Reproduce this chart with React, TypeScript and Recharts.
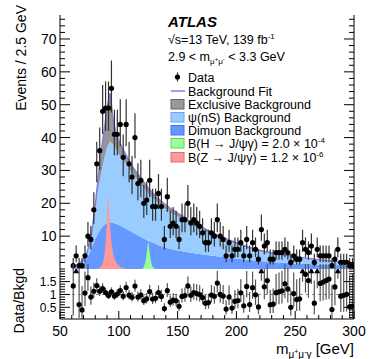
import React from 'react';
import { ComposedChart, Area, Line, Scatter, XAxis, YAxis, ErrorBar, ReferenceLine } from 'recharts';

const FONT = '"Liberation Sans", Arial, Helvetica, sans-serif';

// ---- background model (read at these masses, GeV) ----
const bgMass = [60, 62.5, 65, 67.5, 70, 72.5, 75, 77.5, 80, 82.5, 85, 87.5, 90, 92.5, 95, 97.5, 100, 105, 110, 115, 120, 125, 130, 135, 140, 145, 150, 155, 160, 170, 180, 190, 200, 210, 220, 230, 240, 250, 260, 270, 280, 290, 300];
const dimuonBkg = [0.1, 0.2, 0.4, 0.8, 1.6, 2.9, 4.8, 7.0, 9.2, 11.0, 12.4, 13.4, 14.0, 14.2, 14.1, 13.8, 13.4, 12.5, 11.5, 10.5, 9.5, 8.6, 7.8, 7.1, 6.5, 6.0, 5.6, 5.3, 5.0, 4.5, 4.0, 3.6, 3.2, 2.8, 2.4, 2.1, 1.9, 1.7, 1.55, 1.4, 1.3, 1.2, 1.1];
const psiBkg = [0.4, 0.6, 0.8, 1.0, 1.1, 1.3, 2.0, 4.3, 8.3, 13.5, 16.6, 20.1, 23.0, 24.5, 23.9, 22.7, 21.6, 20.0, 18.5, 17.0, 15.7, 14.4, 13.4, 12.5, 11.7, 11.0, 10.3, 9.7, 8.8, 7.5, 6.3, 5.2, 4.3, 3.5, 2.95, 2.5, 2.1, 1.85, 1.55, 1.25, 1.0, 0.75, 0.55];
const exclusiveBkg = [0.1, 0.1, 0.1, 0.2, 0.3, 0.4, 0.7, 1.2, 2.0, 3.5, 7.0, 8.5, 12.0, 14.8, 8.0, 5.0, 4.0, 3.0, 2.0, 2.0, 1.8, 1.7, 1.5, 1.4, 1.3, 1.2, 1.1, 1.0, 0.9, 0.8, 0.7, 0.6, 0.5, 0.4, 0.35, 0.3, 0.3, 0.25, 0.2, 0.2, 0.15, 0.15, 0.15];

// ---- data (2.5 GeV bins) ----
const binCenters = [61.25, 63.75, 66.25, 68.75, 71.25, 73.75, 76.25, 78.75, 81.25, 83.75, 86.25, 88.75, 91.25, 93.75, 96.25, 98.75, 101.25, 103.75, 106.25, 108.75, 111.25, 113.75, 116.25, 118.75, 121.25, 123.75, 126.25, 128.75, 131.25, 133.75, 136.25, 138.75, 141.25, 143.75, 146.25, 148.75, 151.25, 153.75, 156.25, 158.75, 161.25, 163.75, 166.25, 168.75, 171.25, 173.75, 176.25, 178.75, 181.25, 183.75, 186.25, 188.75, 191.25, 193.75, 196.25, 198.75, 201.25, 203.75, 206.25, 208.75, 211.25, 213.75, 216.25, 218.75, 221.25, 223.75, 226.25, 228.75, 231.25, 233.75, 236.25, 238.75, 241.25, 243.75, 246.25, 248.75, 251.25, 253.75, 256.25, 258.75, 261.25, 263.75, 266.25, 268.75, 271.25, 273.75, 276.25, 278.75, 281.25, 283.75, 286.25, 288.75, 291.25, 293.75, 296.25, 298.75];
const dataCounts = [1, 4, 1, 1, 4, 10, 9, 18, 32, 36, 48, 49, 49, 55, 41, 41, 44, 34, 44, 32, 28, 40, 26, 27, 20, 21, 27, 19, 19, 23, 19, 9, 22, 13, 14, 13, 9, 15, 15, 20, 14, 15, 14, 13, 11, 8, 8, 11, 10, 15, 10, 9, 4, 8, 4, 6, 6, 8, 4, 9, 4, 8, 6, 3, 12, 7, 8, 3, 3, 5, 5, 5, 6, 5, 2, 4, 3, 3, 8, 6, 5, 7, 2, 6, 4, 4, 4, 4, 1, 3, 6, 2, 2, 2, 1, 1];

// ---- signal shapes ----
const zSigMass = [82, 84, 86, 87, 88, 89, 90, 91, 92, 93, 94, 95, 96, 98, 100, 103, 107];
const zSigVal = [0, 0.4, 1.3, 2.6, 5, 9, 15.5, 22.8, 16.5, 11, 7.5, 5, 3.5, 1.8, 0.9, 0.3, 0];
const hSigMass = [119, 121, 122, 123, 124, 125, 126, 127, 128, 129, 131];
const hSigVal = [0, 0.4, 1.3, 2.9, 5.6, 8.5, 5.8, 3.0, 1.3, 0.5, 0];

// ---- ticks ----
const xTicks = [50, 60, 70, 80, 90, 100, 110, 120, 130, 140, 150, 160, 170, 180, 190, 200, 210, 220, 230, 240, 250, 260, 270, 280, 290, 300];
const yTopTicks = [0, 2, 4, 6, 8, 10, 12, 14, 16, 18, 20, 22, 24, 26, 28, 30, 32, 34, 36, 38, 40, 42, 44, 46, 48, 50, 52, 54, 56, 58, 60, 62, 64, 66, 68, 70, 72, 74, 76];
const yTopLabels = [10, 20, 30, 40, 50, 60, 70];
const yRatioTicks = [0.1, 0.2, 0.3, 0.4, 0.5, 0.6, 0.7, 0.8, 0.9, 1.0, 1.1, 1.2, 1.3, 1.4, 1.5, 1.6, 1.7, 1.8, 1.9];
const yRatioLabels = [0.5, 1, 1.5];

const TOP_MAX = 77.3;
const R_MIN = 0.046;
const R_MAX = 1.99;

// ---- tables built from the arrays ----
const bgTable = bgMass.map((m, i) => ({
  m,
  dimuon: dimuonBkg[i],
  psi: psiBkg[i],
  excl: exclusiveBkg[i],
  fit: dimuonBkg[i] + psiBkg[i] + exclusiveBkg[i],
}));

const fitAt = (m: number) => {
  for (let i = 0; i < bgTable.length - 1; i++) {
    const a = bgTable[i], b = bgTable[i + 1];
    if (m >= a.m && m <= b.m) return a.fit + ((b.fit - a.fit) * (m - a.m)) / (b.m - a.m);
  }
  return bgTable[bgTable.length - 1].fit;
};

const poisErr = (n: number): [number, number] => [Math.sqrt(Math.max(n - 0.25, 0)), Math.sqrt(n + 0.75) + 1];

const dataTable = binCenters.map((m, i) => ({ m, n: dataCounts[i], err: poisErr(dataCounts[i]) }));

const ratioAll = binCenters.map((m, i) => {
  const n = dataCounts[i];
  const f = fitAt(m);
  const e = poisErr(n);
  return { m, r: n / f, lo: e[0] / f, hi: e[1] / f };
});
const ratioIn = ratioAll.filter((p) => p.r <= 1.96).map((p) => ({ m: p.m, r: p.r, err: [p.lo, p.hi] }));
const ratioOver = ratioAll.filter((p) => p.r > 1.96).map((p) => ({ m: p.m, r: 1.925, err: [Math.max(1.925 - (p.r - p.lo), 0), 0] }));

const zTable = zSigMass.map((m, i) => ({ m, v: zSigVal[i] }));
const hTable = hSigMass.map((m, i) => ({ m, v: hSigVal[i] }));

// ---- tick renderers ----
const near = (a: number, b: number) => Math.abs(a - b) < 1e-6;
const isMult = (v: number, s: number) => near(v / s, Math.round(v / s));

const makeXTick = (dir: number, majorLen: number, minorLen: number, label: boolean) => (props: any) => {
  const { x, y, payload } = props;
  const v = payload.value;
  const major = isMult(v, 50);
  return (
    <g>
      <line x1={x} y1={y} x2={x} y2={y + dir * (major ? majorLen : minorLen)} stroke="#000" strokeWidth={1} />
      {label && major ? (
        <text x={x} y={y + 17} textAnchor="middle" fontSize={14} fontFamily={FONT} fill="#000">
          {v}
        </text>
      ) : null}
    </g>
  );
};

const makeYTick = (dir: number, majorLen: number, minorLen: number, majors: number[], labels: boolean, fs: number) => (props: any) => {
  const { x, y, payload } = props;
  const v = payload.value;
  const major = majors.some((mv) => near(mv, v));
  return (
    <g>
      <line x1={x} y1={y} x2={x + dir * (major ? majorLen : minorLen)} y2={y} stroke="#000" strokeWidth={1} />
      {labels && major ? (
        <text x={x - 3.5} y={y + fs * 0.36} textAnchor="end" fontSize={fs} fontFamily={FONT} fill="#000">
          {String(v)}
        </text>
      ) : null}
    </g>
  );
};

const DataDot = (p: any) => <circle cx={p.cx} cy={p.cy} r={2.6} fill="#000" />;
const UpTri = (p: any) => (
  <path d={`M${p.cx},${p.cy - 3} L${p.cx + 3},${p.cy + 2.5} L${p.cx - 3},${p.cy + 2.5} Z`} fill="#000" />
);

const legendRows = [
  'Data',
  'Background Fit',
  'Exclusive Background',
  'ψ(nS) Background',
  'Dimuon Background',
  'B(H → J/ψγ) = 2.0 × 10',
  'B(Z → J/ψγ) = 1.2 × 10',
];
const legendSup = ['', '', '', '', '', '-4', '-6'];
const legendY = [77, 91, 104, 117, 130, 143, 157];
const boxFill = ['', '', '#999999', '#99ccff', '#6699ff', '#99ff99', '#ff9999'];
const boxStroke = ['', '', '#666666', '#6f9cff', '#3f70ff', '#66cc66', '#dd7070'];

const FIT_COLOR = '#7f7fe6';

export default function App() {
  const topMajors = yTopLabels;
  return (
    <div style={{ position: 'absolute', left: 0, top: 0, width: 374, height: 359, background: '#fff', overflow: 'hidden' }}>
      <div style={{ position: 'absolute', left: 0, top: 0 }}>
        <ComposedChart width={374} height={270} data={bgTable} margin={{ top: 15, right: 0, bottom: 1, left: 0 }}>
          <XAxis xAxisId="b" dataKey="m" type="number" domain={[50, 300]} allowDataOverflow ticks={xTicks} interval={0} height={0} tickSize={0} tickMargin={0} tickLine={false} axisLine={{ stroke: '#000' }} tick={makeXTick(-1, 8, 4, false)} />
          <XAxis xAxisId="t" orientation="top" dataKey="m" type="number" domain={[50, 300]} allowDataOverflow ticks={xTicks} interval={0} height={0} tickSize={0} tickMargin={0} tickLine={false} axisLine={{ stroke: '#000' }} tick={makeXTick(1, 7, 3.5, false)} />
          <YAxis yAxisId="l" type="number" domain={[0, TOP_MAX]} allowDataOverflow ticks={yTopTicks} interval={0} width={60} tickSize={0} tickMargin={0} tickLine={false} axisLine={{ stroke: '#000' }} tick={makeYTick(1, 10, 5, topMajors, true, 14)} />
          <YAxis yAxisId="r" orientation="right" type="number" domain={[0, TOP_MAX]} allowDataOverflow ticks={yTopTicks} interval={0} width={20} tickSize={0} tickMargin={0} tickLine={false} axisLine={{ stroke: '#000' }} tick={makeYTick(-1, 10, 5, topMajors, false, 14)} />
          <Area xAxisId="b" yAxisId="l" stackId="bg" type="linear" dataKey="dimuon" fill="#6699ff" fillOpacity={1} stroke="none" isAnimationActive={false} />
          <Area xAxisId="b" yAxisId="l" stackId="bg" type="linear" dataKey="psi" fill="#99ccff" fillOpacity={1} stroke="none" isAnimationActive={false} />
          <Area xAxisId="b" yAxisId="l" stackId="bg" type="linear" dataKey="excl" fill="#959595" fillOpacity={1} stroke="none" isAnimationActive={false} />
          <Area xAxisId="b" yAxisId="l" data={hTable} type="linear" dataKey="v" fill="#99ff99" fillOpacity={1} stroke="none" isAnimationActive={false} />
          <Area xAxisId="b" yAxisId="l" data={zTable} type="linear" dataKey="v" fill="#ff9999" fillOpacity={1} stroke="none" isAnimationActive={false} />
          <Line xAxisId="b" yAxisId="l" type="linear" dataKey="fit" stroke={FIT_COLOR} strokeWidth={1.4} dot={false} isAnimationActive={false} />
          <Scatter xAxisId="b" yAxisId="l" data={dataTable} dataKey="n" shape={DataDot} isAnimationActive={false}>
            <ErrorBar dataKey="err" direction="y" width={0} stroke="#333" strokeWidth={1.2} isAnimationActive={false} />
          </Scatter>
        </ComposedChart>
      </div>
      <div style={{ position: 'absolute', left: 0, top: 264 }}>
        <ComposedChart width={374} height={95} margin={{ top: 5, right: 0, bottom: 0, left: 0 }}>
          <XAxis xAxisId="b" dataKey="m" type="number" domain={[50, 300]} allowDataOverflow ticks={xTicks} interval={0} height={40} tickSize={0} tickMargin={0} tickLine={false} axisLine={{ stroke: '#000' }} tick={makeXTick(-1, 8, 4, true)} />
          <XAxis xAxisId="t" orientation="top" dataKey="m" type="number" domain={[50, 300]} allowDataOverflow ticks={xTicks} interval={0} height={0} tickSize={0} tickMargin={0} tickLine={false} axisLine={{ stroke: '#000' }} tick={makeXTick(1, 7, 3.5, false)} />
          <YAxis yAxisId="l" type="number" domain={[R_MIN, R_MAX]} allowDataOverflow ticks={yRatioTicks} interval={0} width={60} tickSize={0} tickMargin={0} tickLine={false} axisLine={{ stroke: '#000' }} tick={makeYTick(1, 10, 5, yRatioLabels, true, 12)} />
          <YAxis yAxisId="r" orientation="right" type="number" domain={[R_MIN, R_MAX]} allowDataOverflow ticks={yRatioTicks} interval={0} width={20} tickSize={0} tickMargin={0} tickLine={false} axisLine={{ stroke: '#000' }} tick={makeYTick(-1, 10, 5, yRatioLabels, false, 12)} />
          <ReferenceLine xAxisId="b" yAxisId="l" y={1} stroke="#888" strokeDasharray="3 3" strokeWidth={1} />
          <Scatter xAxisId="b" yAxisId="l" data={ratioIn} dataKey="r" shape={DataDot} isAnimationActive={false}>
            <ErrorBar dataKey="err" direction="y" width={0} stroke="#555" strokeWidth={1.2} isAnimationActive={false} />
          </Scatter>
          <Scatter xAxisId="b" yAxisId="l" data={ratioOver} dataKey="r" shape={UpTri} isAnimationActive={false}>
            <ErrorBar dataKey="err" direction="y" width={0} stroke="#555" strokeWidth={1.2} isAnimationActive={false} />
          </Scatter>
        </ComposedChart>
      </div>
      <svg width={374} height={359} style={{ position: 'absolute', left: 0, top: 0, pointerEvents: 'none' }} fontFamily={FONT}>
        <text transform="translate(26,5) rotate(-90)" textAnchor="end" fontSize={14} fill="#000">Events / 2.5 GeV</text>
        <text transform="translate(24,268) rotate(-90)" textAnchor="end" fontSize={14} fill="#000">Data/Bkgd</text>
        <text x={354} y={354} textAnchor="end" fontSize={15} fill="#000">
          m<tspan fontSize={10} dy={4}>μ</tspan>
          <tspan fontSize={7} dy={-4}>+</tspan>
          <tspan fontSize={10} dy={4}>μ</tspan>
          <tspan fontSize={7} dy={-4}>-</tspan>
          <tspan fontSize={10} dy={4}>γ</tspan>
          <tspan fontSize={15} dy={-4}> [GeV]</tspan>
        </text>
        <text x={168} y={27} fontSize={15} fontWeight="bold" fontStyle="italic" fill="#000">ATLAS</text>
        <text x={168} y={44} fontSize={12.5} fill="#000">
          √s=13 TeV, 139 fb<tspan fontSize={8} dy={-5}>-1</tspan>
        </text>
        <text x={168} y={61} fontSize={12.5} fill="#000">
          2.9 &lt; m<tspan fontSize={8} dy={3}>μ</tspan>
          <tspan fontSize={6} dy={-3}>+</tspan>
          <tspan fontSize={8} dy={3}>μ</tspan>
          <tspan fontSize={6} dy={-3}>-</tspan>
          <tspan fontSize={12.5} dy={0}> &lt; 3.3 GeV</tspan>
        </text>
        {legendRows.map((lab, i) => {
          const cy = legendY[i];
          let marker: React.ReactNode = null;
          if (i === 0) {
            marker = (
              <g>
                <line x1={177.5} y1={cy - 4.5} x2={177.5} y2={cy + 4.5} stroke="#333" strokeWidth={1.2} />
                <circle cx={177.5} cy={cy} r={2.6} fill="#000" />
              </g>
            );
          } else if (i === 1) {
            marker = <line x1={171} y1={cy} x2={185} y2={cy} stroke={FIT_COLOR} strokeWidth={1.5} />;
          } else {
            marker = <rect x={171} y={cy - 4.5} width={13} height={9.5} fill={boxFill[i]} stroke={boxStroke[i]} strokeWidth={1} />;
          }
          return (
            <g key={lab}>
              {marker}
              <text x={188} y={cy + 4.5} fontSize={12.5} fill="#000">
                {lab}
                {legendSup[i] ? <tspan fontSize={8} dy={-5}>{legendSup[i]}</tspan> : null}
              </text>
            </g>
          );
        })}
      </svg>
    </div>
  );
}
